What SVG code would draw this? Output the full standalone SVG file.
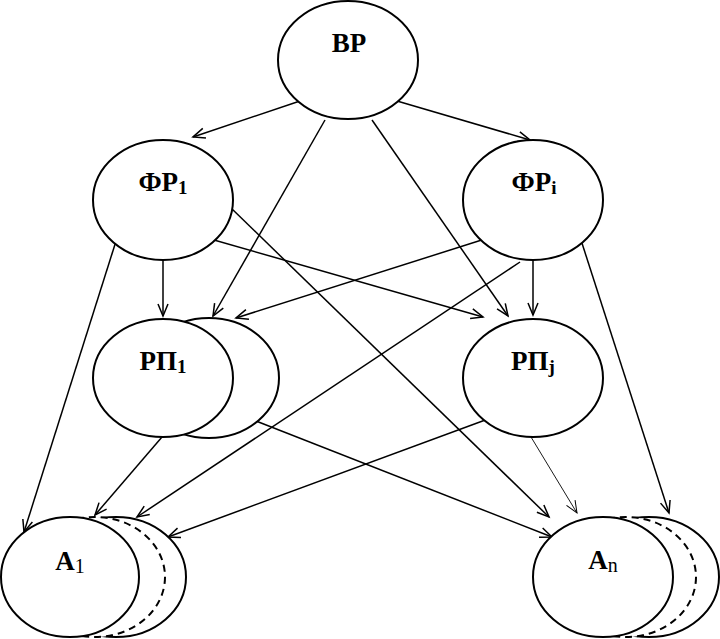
<svg xmlns="http://www.w3.org/2000/svg" width="720" height="639" viewBox="0 0 720 639">
<style>
.n{fill:#fff;stroke:#000;stroke-width:2}
.d{fill:#fff;stroke:#000;stroke-width:2;stroke-dasharray:7 5}
.c line{stroke:#000;stroke-width:1.5;marker-end:url(#ah)}
.c line.thin{stroke-width:0.9;marker-end:url(#aht)}
text{font-family:"Liberation Serif","Times New Roman",serif;font-weight:bold;font-size:27px;text-anchor:middle;fill:#000}
.s{font-size:19px}
.sn{font-size:20px;font-weight:normal}
</style>
<defs>
<marker id="ah" markerUnits="userSpaceOnUse" markerWidth="16" markerHeight="14" refX="13" refY="6" orient="auto">
<path d="M1,1 L13,6 L1,11" fill="none" stroke="#000" stroke-width="1.5"/>
</marker>
<marker id="aht" markerUnits="userSpaceOnUse" markerWidth="16" markerHeight="14" refX="13" refY="6" orient="auto">
<path d="M1,1 L13,6 L1,11" fill="none" stroke="#000" stroke-width="1"/>
</marker>
</defs>
<g class="c" id="connectors">
<line x1="300" y1="101" x2="193" y2="137"/>
<line x1="397" y1="101" x2="530" y2="140"/>
<line x1="325" y1="120" x2="213" y2="316"/>
<line x1="372" y1="120" x2="508" y2="316"/>
<line x1="163" y1="258" x2="163" y2="316"/>
<line x1="207" y1="238" x2="483" y2="317"/>
<line x1="230" y1="207" x2="549" y2="517"/>
<line x1="117" y1="238" x2="24" y2="532"/>
<line x1="533" y1="258" x2="533" y2="315"/>
<line x1="488" y1="238" x2="236" y2="318"/>
<line x1="520" y1="262" x2="137" y2="517"/>
<line x1="580" y1="237" x2="669" y2="513"/>
<line x1="162" y1="437" x2="95" y2="515"/>
<line x1="256" y1="421" x2="552" y2="537"/>
<line x1="488" y1="419" x2="168" y2="537"/>
<line class="thin" x1="531" y1="437" x2="577" y2="513"/>
</g>
<g id="BP">
<ellipse class="n" cx="348" cy="60" rx="70" ry="59"/>
<text x="349" y="52">ВР</text>
</g>
<g id="FR1">
<ellipse class="n" cx="163" cy="200" rx="70" ry="60"/>
<text x="163" y="191">ФР<tspan class="s" dy="3">1</tspan></text>
</g>
<g id="FRi">
<ellipse class="n" cx="533" cy="200" rx="70" ry="60"/>
<text x="534" y="191">ФР<tspan class="s" dy="3">i</tspan></text>
</g>
<g id="RP1">
<ellipse class="n" cx="209" cy="378" rx="70" ry="60"/>
<ellipse class="n" cx="163" cy="378" rx="70" ry="59"/>
<text x="163" y="370">РП<tspan class="s" dy="3">1</tspan></text>
</g>
<g id="RPj">
<ellipse class="n" cx="533" cy="378" rx="70" ry="59"/>
<text x="533" y="370">РП<tspan class="s" dy="3">j</tspan></text>
</g>
<g id="A1">
<ellipse class="n" cx="116" cy="577" rx="70" ry="60"/>
<ellipse class="d" cx="95" cy="577" rx="70" ry="60"/>
<ellipse class="n" cx="70" cy="577" rx="69" ry="60"/>
<text x="70" y="570">А<tspan class="sn" dy="3">1</tspan></text>
</g>
<g id="An">
<ellipse class="n" cx="649" cy="577" rx="70" ry="60"/>
<ellipse class="d" cx="626" cy="577" rx="70" ry="60"/>
<ellipse class="n" cx="603" cy="577" rx="70" ry="60"/>
<text x="603" y="569">А<tspan class="sn" dy="3">n</tspan></text>
</g>
</svg>
